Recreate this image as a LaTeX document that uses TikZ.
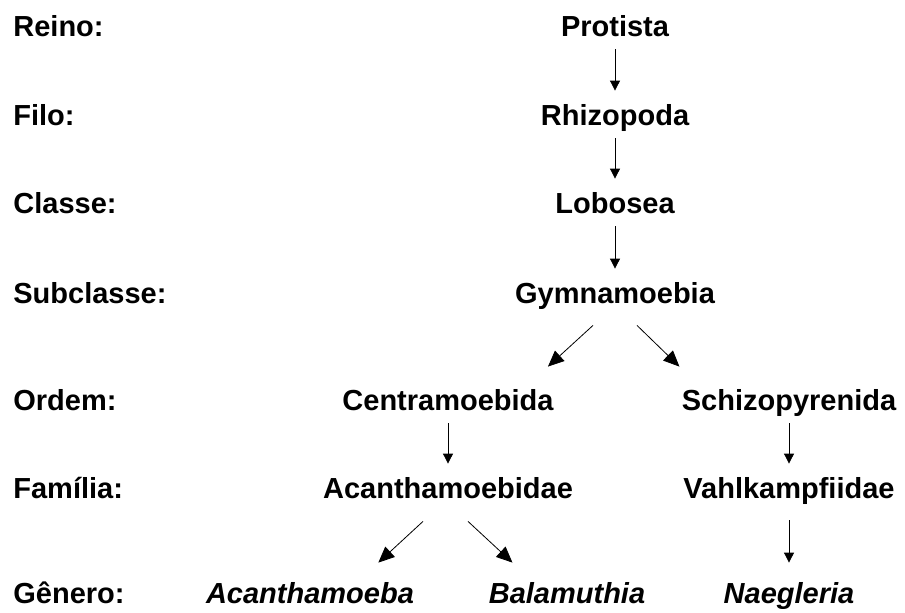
\documentclass[tikz,border=0pt]{standalone}
\usepackage{fontspec}
\setmainfont{Liberation Sans}
\usetikzlibrary{arrows.meta, positioning}
\tikzset{
  every picture/.style={font=\bfseries\fontsize{29}{34}\selectfont, line width=0.8pt},
  rank/.style={anchor=base west, inner sep=0pt},
  taxon/.style={anchor=base, inner xsep=0pt, inner ysep=7pt, text height=27pt, text depth=6pt},
  genus/.style={taxon, font=\bfseries\itshape\fontsize{29}{34}\selectfont},
  arrow/.style={-{Triangle[length=10pt, width=10pt]}},
  split/.style={-{Triangle[length=16pt, width=14pt]}},
}

\begin{document}
\begin{tikzpicture}[x=1pt, y=-1pt]
  \useasboundingbox (0,0) rectangle (905,613);
  % rank names down the left
  \foreach \lab/\y [count=\i] in {Reino/36, Filo/125, Classe/213, Subclasse/303, Ordem/410, Família/498, Gênero/603}
    \node[rank] (rank\i) at (13,\y) {\lab:};
  % taxa, one row per rank
  \node[taxon] (protista) at (615,36) {Protista};
  \node[taxon] (rhizo) at (615,125) {Rhizopoda};
  \node[taxon] (lobo) at (615,213) {Lobosea};
  \node[taxon] (gymn) at (615,303) {Gymnamoebia};
  \node[taxon] (centr) at (448,410) {Centramoebida};
  \node[taxon] (schizo) at (789,410) {Schizopyrenida};
  \node[taxon] (acanthidae) at (448,498) {Acanthamoebidae};
  \node[taxon] (vahl) at (789,498) {Vahlkampfiidae};
  \node[genus] (acanth) at (310,603) {Acanthamoeba};
  \node[genus] (balam) at (567,603) {Balamuthia};
  \node[genus] (naeg) at (789,603) {Naegleria};
  % straight descents
  \draw[arrow] (protista.south) -- (rhizo.north);
  \draw[arrow] (rhizo.south) -- (lobo.north);
  \draw[arrow] (lobo.south) -- (gymn.north);
  \draw[arrow] (centr.south) -- (acanthidae.north);
  \draw[arrow] (schizo.south) -- (vahl.north);
  \draw[arrow] ([yshift=-9pt]vahl.south) -- ([yshift=6pt]naeg.north);
  % branchings
  \draw[split] ([xshift=-22pt, yshift=-9pt]gymn.south) -- ([xshift=-6pt, yshift=9pt]centr.north east);
  \draw[split] ([xshift=22pt, yshift=-9pt]gymn.south) -- ([xshift=-2pt, yshift=9pt]schizo.north west);
  \draw[split] ([xshift=-25pt, yshift=-10pt]acanthidae.south) -- ([xshift=-36pt, yshift=6pt]acanth.north east);
  \draw[split] ([xshift=20pt, yshift=-10pt]acanthidae.south) -- ([xshift=24pt, yshift=6pt]balam.north west);
\end{tikzpicture}
\end{document}
